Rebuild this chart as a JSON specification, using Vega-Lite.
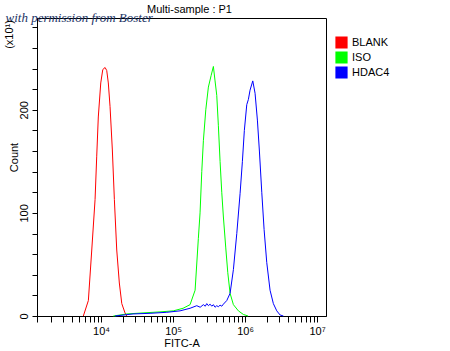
{
  "$schema": "https://vega.github.io/schema/vega-lite/v6.json",
  "width": 289,
  "height": 298,
  "autosize": {"type": "none"},
  "padding": {"left": 37, "top": 18, "right": 124, "bottom": 35},
  "background": "white",
  "title": {"text": "Multi-sample : P1", "anchor": "middle", "dx": 8, "font": "Liberation Sans", "fontSize": 11, "fontWeight": "normal", "color": "black", "baseline": "alphabetic", "offset": -13},
  "config": {
    "view": {"stroke": "black", "strokeWidth": 1},
    "axis": {"domainColor": "black", "tickColor": "black", "labelColor": "black", "titleColor": "black", "labelFont": "Liberation Sans", "titleFont": "Liberation Sans", "labelFontSize": 11, "titleFontSize": 11, "titleFontWeight": "normal", "grid": false, "domainWidth": 1, "tickWidth": 1}
  },
  "data": {"values": [
    {"sample": "BLANK", "fitc": 5675, "count": 0},
    {"sample": "BLANK", "fitc": 6668, "count": 15},
    {"sample": "BLANK", "fitc": 7430, "count": 64},
    {"sample": "BLANK", "fitc": 8260, "count": 113},
    {"sample": "BLANK", "fitc": 8710, "count": 155},
    {"sample": "BLANK", "fitc": 9162, "count": 193},
    {"sample": "BLANK", "fitc": 9908, "count": 226},
    {"sample": "BLANK", "fitc": 10568, "count": 239},
    {"sample": "BLANK", "fitc": 11376, "count": 241},
    {"sample": "BLANK", "fitc": 11995, "count": 238},
    {"sample": "BLANK", "fitc": 12618, "count": 226},
    {"sample": "BLANK", "fitc": 13335, "count": 203},
    {"sample": "BLANK", "fitc": 14355, "count": 161},
    {"sample": "BLANK", "fitc": 15311, "count": 113},
    {"sample": "BLANK", "fitc": 16520, "count": 64},
    {"sample": "BLANK", "fitc": 17947, "count": 32},
    {"sample": "BLANK", "fitc": 19409, "count": 12},
    {"sample": "BLANK", "fitc": 21528, "count": 3},
    {"sample": "BLANK", "fitc": 22751, "count": 0},
    {"sample": "ISO", "fitc": 14830, "count": 0},
    {"sample": "ISO", "fitc": 22750, "count": 2},
    {"sample": "ISO", "fitc": 38300, "count": 3},
    {"sample": "ISO", "fitc": 65900, "count": 4},
    {"sample": "ISO", "fitc": 100900, "count": 5},
    {"sample": "ISO", "fitc": 137700, "count": 7.5},
    {"sample": "ISO", "fitc": 172200, "count": 11},
    {"sample": "ISO", "fitc": 202300, "count": 25},
    {"sample": "ISO", "fitc": 224400, "count": 75},
    {"sample": "ISO", "fitc": 237100, "count": 100},
    {"sample": "ISO", "fitc": 250500, "count": 140},
    {"sample": "ISO", "fitc": 263700, "count": 170},
    {"sample": "ISO", "fitc": 284800, "count": 200},
    {"sample": "ISO", "fitc": 309400, "count": 222},
    {"sample": "ISO", "fitc": 337200, "count": 233},
    {"sample": "ISO", "fitc": 363100, "count": 242},
    {"sample": "ISO", "fitc": 382900, "count": 228},
    {"sample": "ISO", "fitc": 404500, "count": 214},
    {"sample": "ISO", "fitc": 425600, "count": 185},
    {"sample": "ISO", "fitc": 449700, "count": 150},
    {"sample": "ISO", "fitc": 474500, "count": 120},
    {"sample": "ISO", "fitc": 500000, "count": 96},
    {"sample": "ISO", "fitc": 539500, "count": 66},
    {"sample": "ISO", "fitc": 575400, "count": 42},
    {"sample": "ISO", "fitc": 619400, "count": 22},
    {"sample": "ISO", "fitc": 688600, "count": 11},
    {"sample": "ISO", "fitc": 807500, "count": 5},
    {"sample": "ISO", "fitc": 946300, "count": 1.5},
    {"sample": "ISO", "fitc": 1101000, "count": 0},
    {"sample": "HDAC4", "fitc": 15640, "count": 0},
    {"sample": "HDAC4", "fitc": 27800, "count": 2},
    {"sample": "HDAC4", "fitc": 47980, "count": 2.6},
    {"sample": "HDAC4", "fitc": 81850, "count": 3.6},
    {"sample": "HDAC4", "fitc": 125000, "count": 5},
    {"sample": "HDAC4", "fitc": 172200, "count": 7.5},
    {"sample": "HDAC4", "fitc": 213300, "count": 10},
    {"sample": "HDAC4", "fitc": 238000, "count": 8.5},
    {"sample": "HDAC4", "fitc": 263700, "count": 11},
    {"sample": "HDAC4", "fitc": 280000, "count": 9.5},
    {"sample": "HDAC4", "fitc": 293800, "count": 12},
    {"sample": "HDAC4", "fitc": 310000, "count": 10},
    {"sample": "HDAC4", "fitc": 326600, "count": 11.5},
    {"sample": "HDAC4", "fitc": 345000, "count": 9.5},
    {"sample": "HDAC4", "fitc": 363100, "count": 11},
    {"sample": "HDAC4", "fitc": 383000, "count": 8.5},
    {"sample": "HDAC4", "fitc": 404500, "count": 10},
    {"sample": "HDAC4", "fitc": 425000, "count": 9},
    {"sample": "HDAC4", "fitc": 449700, "count": 10.5},
    {"sample": "HDAC4", "fitc": 475000, "count": 9.5},
    {"sample": "HDAC4", "fitc": 500000, "count": 11.5},
    {"sample": "HDAC4", "fitc": 557200, "count": 15},
    {"sample": "HDAC4", "fitc": 619400, "count": 22},
    {"sample": "HDAC4", "fitc": 688600, "count": 45},
    {"sample": "HDAC4", "fitc": 767400, "count": 80},
    {"sample": "HDAC4", "fitc": 853100, "count": 119},
    {"sample": "HDAC4", "fitc": 918300, "count": 150},
    {"sample": "HDAC4", "fitc": 977200, "count": 180},
    {"sample": "HDAC4", "fitc": 1056000, "count": 205},
    {"sample": "HDAC4", "fitc": 1112000, "count": 210},
    {"sample": "HDAC4", "fitc": 1172000, "count": 219},
    {"sample": "HDAC4", "fitc": 1279000, "count": 228},
    {"sample": "HDAC4", "fitc": 1377000, "count": 216},
    {"sample": "HDAC4", "fitc": 1483000, "count": 190},
    {"sample": "HDAC4", "fitc": 1581000, "count": 160},
    {"sample": "HDAC4", "fitc": 1706000, "count": 120},
    {"sample": "HDAC4", "fitc": 1837000, "count": 84},
    {"sample": "HDAC4", "fitc": 2000000, "count": 52},
    {"sample": "HDAC4", "fitc": 2223000, "count": 25},
    {"sample": "HDAC4", "fitc": 2472000, "count": 12},
    {"sample": "HDAC4", "fitc": 2754000, "count": 5},
    {"sample": "HDAC4", "fitc": 3062000, "count": 1},
    {"sample": "HDAC4", "fitc": 3405000, "count": 0}
  ]},
  "layer": [
    {
      "mark": {"type": "line", "strokeWidth": 1, "interpolate": "linear"},
      "encoding": {
        "x": {
          "field": "fitc", "type": "quantitative",
          "scale": {"type": "log", "domain": [1290, 13300000], "nice": false},
          "axis": {
            "title": "FITC-A",
            "values": [1290, 2000, 3000, 4000, 5000, 6000, 7000, 8000, 9000, 10000, 20000, 30000, 40000, 50000, 60000, 70000, 80000, 90000, 100000, 200000, 300000, 400000, 500000, 600000, 700000, 800000, 900000, 1000000, 2000000, 3000000, 4000000, 5000000, 6000000, 7000000, 8000000, 9000000, 10000000],
            "labelExpr": "abs(log(datum.value)/LN10 - round(log(datum.value)/LN10)) < 0.001 ? '10' + ['⁰','¹','²','³','⁴','⁵','⁶','⁷','⁸'][round(log(datum.value)/LN10)] : ''",
            "tickSize": 6,
            "labelPadding": 3,
            "labelOverlap": false,
            "labelFlush": false,
            "labelBound": false,
            "titleY": 27,
            "titleBaseline": "middle"
          }
        },
        "y": {
          "field": "count", "type": "quantitative",
          "scale": {"domain": [0, 289], "nice": false, "zero": true},
          "axis": {
            "title": "Count",
            "values": [0, 20, 40, 60, 80, 100, 120, 140, 160, 180, 200, 220, 240, 260, 280],
            "labelExpr": "datum.value % 100 === 0 ? datum.label : ''",
            "tickSize": 5,
            "labelAngle": 270,
            "labelAlign": "center",
            "labelBaseline": "alphabetic",
            "labelPadding": 5,
            "labelOverlap": false,
            "labelFlush": false,
            "labelBound": false,
            "titleAngle": 270,
            "titleX": -20,
            "titleY": 139,
            "titleBaseline": "alphabetic",
            "titleAlign": "center"
          }
        },
        "color": {
          "field": "sample", "type": "nominal",
          "scale": {"domain": ["BLANK", "ISO", "HDAC4"], "range": ["#ff0000", "#00ff00", "#0000ff"]},
          "legend": {
            "title": null,
            "orient": "none",
            "legendX": 298,
            "legendY": 18,
            "padding": 0,
            "symbolType": "square",
            "symbolSize": 121,
            "symbolStrokeWidth": 1,
            "symbolStrokeColor": "black",
            "labelFont": "Liberation Sans",
            "labelFontSize": 11,
            "labelColor": "black",
            "labelOffset": 4,
            "rowPadding": -3,
            "encode": {"symbols": {
              "update": {"fill": {"scale": "color", "field": "value"}, "stroke": {"value": "#000000"}, "strokeWidth": {"value": 1.2}, "fillOpacity": {"value": 1}, "strokeOpacity": {"value": 1}}
            }}
          }
        }
      }
    },
    {
      "mark": {"type": "point", "opacity": 0},
      "encoding": {
        "x": {
          "field": "fitc", "type": "quantitative",
          "axis": {
            "orient": "top", "labels": false, "ticks": false, "domain": false,
            "title": "with permission from Boster",
            "titleFont": "Liberation Serif", "titleFontStyle": "italic", "titleFontSize": 13, "titleColor": "#1c3466",
            "titleX": -32, "titleY": -1, "titleAlign": "left", "titleBaseline": "middle", "titleAngle": 0
          }
        },
        "y": {
          "field": "count", "type": "quantitative",
          "axis": {
            "orient": "right", "labels": false, "ticks": false, "domain": false,
            "title": "(x10¹)",
            "titleX": -317, "titleY": 16, "titleAngle": 270, "titleAlign": "center", "titleBaseline": "middle"
          }
        }
      }
    }
  ],
  "resolve": {"axis": {"x": "independent", "y": "independent"}}
}
